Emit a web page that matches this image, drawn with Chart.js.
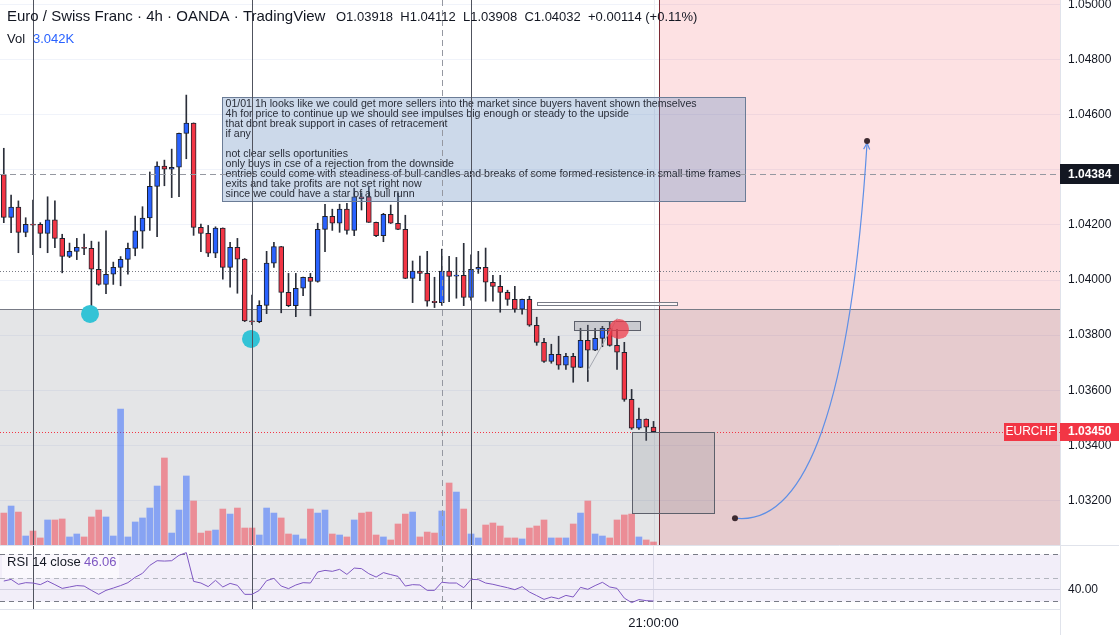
<!DOCTYPE html>
<html>
<head>
<meta charset="utf-8">
<title>EURCHF 4h</title>
<script src="https://cdn.jsdelivr.net/npm/chart.js@4.4.1/dist/chart.umd.min.js"></script>
<style>
  html, body { margin: 0; padding: 0; background: #fff; }
  #wrap { position: relative; width: 1119px; height: 635px; overflow: hidden; }
  #mainChart { position: absolute; left: 0; top: 0; }
  #rsiChart { position: absolute; left: 0; top: 546px; }
</style>
</head>
<body>
<div id="wrap">
  <canvas id="mainChart" width="1119" height="546"></canvas>
  <canvas id="rsiChart" width="1119" height="89"></canvas>
</div>
<script>
// 4h candles
const opens = [
  1.04383, 1.04227, 1.04265, 1.04173, 1.04203, 1.04202, 1.04169, 1.04218, 1.04151, 1.04086,
  1.04104, 1.04119, 1.04115, 1.04039, 1.03984, 1.04021, 1.04046, 1.04075, 1.04115, 1.04177,
  1.04225, 1.04340, 1.04413, 1.04402, 1.04409, 1.04532, 1.04569, 1.04191, 1.04169, 1.04097,
  1.04188, 1.04046, 1.04119, 1.04076, 1.03852, 1.03849, 1.03908, 1.04061, 1.04121, 1.03955,
  1.03907, 1.03970, 1.04010, 1.03995, 1.04184, 1.04231, 1.04206, 1.04257, 1.04180, 1.04302,
  1.04302, 1.04209, 1.04161, 1.04238, 1.04206, 1.04184, 1.04006, 1.04032, 1.04024, 1.03923,
  1.03918, 1.04032, 1.04014, 1.04017, 1.03937, 1.04039, 1.04046, 1.03992, 1.03977, 1.03955,
  1.03930, 1.03894, 1.03930, 1.03836, 1.03774, 1.03705, 1.03730, 1.03691, 1.03723, 1.03683,
  1.03781, 1.03745, 1.03788, 1.03825, 1.03763, 1.03738, 1.03567, 1.03462, 1.03495, 1.03466
];
const highs = [
  1.04478, 1.04308, 1.04287, 1.04226, 1.04290, 1.04208, 1.04302, 1.04287, 1.04166, 1.04134,
  1.04151, 1.04167, 1.04141, 1.04138, 1.04178, 1.04065, 1.04085, 1.04134, 1.04232, 1.04266,
  1.04392, 1.04429, 1.04435, 1.04475, 1.04533, 1.04671, 1.04570, 1.04203, 1.04198, 1.04193,
  1.04189, 1.04137, 1.04151, 1.04078, 1.03945, 1.03925, 1.04104, 1.04137, 1.04122, 1.04024,
  1.04024, 1.04011, 1.04024, 1.04206, 1.04275, 1.04257, 1.04275, 1.04278, 1.04333, 1.04316,
  1.04338, 1.04210, 1.04242, 1.04272, 1.04315, 1.04235, 1.04069, 1.04087, 1.04104, 1.04010,
  1.04112, 1.04086, 1.04082, 1.04133, 1.04091, 1.04104, 1.04116, 1.04017, 1.04017, 1.03963,
  1.03977, 1.03931, 1.03941, 1.03865, 1.03788, 1.03767, 1.03796, 1.03734, 1.03734, 1.03825,
  1.03836, 1.03825, 1.03832, 1.03847, 1.03821, 1.03774, 1.03603, 1.03535, 1.03496, 1.03487
];
const lows = [
  1.04208, 1.04172, 1.04099, 1.04157, 1.04092, 1.04117, 1.04099, 1.04117, 1.04026, 1.04081,
  1.04074, 1.04092, 1.03900, 1.03981, 1.03950, 1.03984, 1.03979, 1.04021, 1.04088, 1.04115,
  1.04180, 1.04157, 1.04342, 1.04299, 1.04302, 1.04440, 1.04162, 1.04103, 1.04085, 1.04081,
  1.04003, 1.03974, 1.03952, 1.03849, 1.03838, 1.03845, 1.03878, 1.04046, 1.03881, 1.03903,
  1.03867, 1.03943, 1.03870, 1.03992, 1.04103, 1.04180, 1.04173, 1.04166, 1.04161, 1.04254,
  1.04209, 1.04157, 1.04139, 1.04205, 1.04183, 1.04005, 1.03918, 1.03998, 1.03905, 1.03900,
  1.03908, 1.03921, 1.03934, 1.03907, 1.03927, 1.04024, 1.03923, 1.03923, 1.03883, 1.03908,
  1.03883, 1.03876, 1.03832, 1.03763, 1.03701, 1.03698, 1.03676, 1.03676, 1.03629, 1.03682,
  1.03632, 1.03744, 1.03758, 1.03760, 1.03676, 1.03560, 1.03458, 1.03458, 1.03418, 1.03447
];
const closes = [
  1.04227, 1.04265, 1.04173, 1.04202, 1.04199, 1.04169, 1.04218, 1.04151, 1.04086, 1.04104,
  1.04119, 1.04115, 1.04039, 1.03984, 1.04021, 1.04046, 1.04075, 1.04115, 1.04178, 1.04225,
  1.04340, 1.04413, 1.04402, 1.04409, 1.04532, 1.04569, 1.04191, 1.04169, 1.04097, 1.04188,
  1.04046, 1.04119, 1.04076, 1.03852, 1.03848, 1.03908, 1.04061, 1.04121, 1.03955, 1.03907,
  1.03970, 1.04010, 1.03995, 1.04184, 1.04231, 1.04206, 1.04257, 1.04180, 1.04302, 1.04295,
  1.04209, 1.04161, 1.04238, 1.04206, 1.04184, 1.04006, 1.04032, 1.04024, 1.03923, 1.03918,
  1.04032, 1.04013, 1.04018, 1.03937, 1.04039, 1.04046, 1.03992, 1.03977, 1.03955, 1.03930,
  1.03894, 1.03930, 1.03836, 1.03774, 1.03705, 1.03730, 1.03691, 1.03723, 1.03683, 1.03781,
  1.03745, 1.03788, 1.03825, 1.03763, 1.03738, 1.03567, 1.03462, 1.03495, 1.03466, 1.03450
];
const volumes = [
  2860, 3490, 2950, 805, 1250, 630, 2240, 2240, 2330, 720,
  985, 720, 2510, 3130, 2510, 805, 12170, 720, 2060, 2420,
  3310, 5280, 7790, 1070, 3130, 6180, 3940, 1070, 1250, 1340,
  3220, 2770, 3310, 1520, 1520, 895, 3310, 2860, 2420, 985,
  895, 540, 3220, 2860, 3130, 985, 895, 720, 2240, 2860,
  2950, 895, 720, 450, 1880, 2770, 2950, 720, 1160, 1070,
  3042, 5550, 4740, 3220, 985, 630, 1790, 1970, 1700, 630,
  630, 540, 1520, 1700, 2240, 630, 630, 630, 1880, 2860,
  3940, 985, 805, 630, 2240, 2690, 2770, 720, 450, 270
];
const rsiValues = [
  47.1, 48.5, 44.3, 45.7, 45.4, 44.0, 47.1, 44.0, 40.8, 42.0,
  43.2, 42.8, 39.1, 35.7, 39.1, 41.1, 43.2, 45.7, 50.3, 53.7,
  60.5, 64.5, 64.2, 64.5, 69.1, 71.4, 46.8, 45.4, 42.3, 47.7,
  42.0, 45.1, 43.4, 35.7, 35.7, 39.1, 47.4, 49.4, 42.8, 40.6,
  43.7, 45.7, 45.4, 54.8, 56.2, 55.4, 57.1, 52.8, 58.2, 57.7,
  53.4, 50.5, 54.3, 52.6, 51.1, 42.8, 44.0, 43.7, 39.1, 39.1,
  46.06, 45.4, 45.4, 41.4, 48.5, 48.3, 45.4, 44.3, 42.8, 41.4,
  39.7, 42.3, 37.7, 34.6, 31.4, 33.4, 32.0, 34.8, 33.4, 41.7,
  40.0, 43.2, 46.0, 42.0, 40.8, 32.5, 28.6, 31.2, 30.3, 30.0
];
const priceTicks = [1.032, 1.034, 1.036, 1.038, 1.040, 1.042, 1.044, 1.046, 1.048, 1.050];
const rsiTicks = [40];
const rsiBands = [70, 50, 30];
const timeTicks = [89];
const timeLabels = ['21:00:00'];

const hoverIdx = 60;          // candle under the crosshair
const crossPrice = 1.04384;
const lastPrice = 1.0345;

// visible ranges
const X_MIN = -0.52, X_MAX = 144.68;
const P_MIN = 1.030385, P_MAX = 1.05016;
const VOL_MAX = 48800;
const RSI_MIN = 23.15, RSI_MAX = 77.1;

// drawings on the chart (bar index / price)
const grayBandTop = 1.03893;
const futureStart = 89.75;
const markerLines = [4, 34, 64];
const refLine = 1.04032;
const supportDots = [[11.81, 1.03877], [33.86, 1.03786]];
const rejectDot = [84.27, 1.03822];
const zoneThin = [73.04, 92.22, 1.03920, 1.03911];
const zoneTop = [78.11, 87.15, 1.03851, 1.03820];
const zoneBox = [86.05, 97.29, 1.03450, 1.03153];
const trendSeg = [80.03, 1.03673, 84.04, 1.03861];
const pathCurve = [[100.16, 1.03136], [114.96, 1.03090], [118.25, 1.04497]];
const noteBox = [29.89, 101.53, 1.04664, 1.04287];
const noteLines = [
  '01/01 1h looks like we could get more sellers into the market since buyers havent shown themselves',
  '4h for price to continue up we should see impulses big enough or steady to the upside',
  'that dont break support in cases of retracement',
  'if any',
  '',
  'not clear sells oportunities',
  'only buys in cse of a rejection from the downside',
  'entries could come with steadiness of bull candles and breaks of some formed resistence in small time frames',
  'exits and take profits are not set right now',
  'since we could have a star of a bull runn'
];

const FONT = '"Liberation Sans", Arial, sans-serif';
const UP = '#2962ff';
const DOWN = '#f23645';
Chart.defaults.font.family = FONT;

function crisp(v) { return Math.round(v) + 0.5; }

function hline(ctx, a, yy) {
  ctx.beginPath(); ctx.moveTo(a.left, yy); ctx.lineTo(a.right, yy); ctx.stroke();
}
function vline(ctx, xx, y0, y1) {
  ctx.beginPath(); ctx.moveTo(xx, y0); ctx.lineTo(xx, y1); ctx.stroke();
}
function rectZone(ctx, x, y, z, fill, stroke) {
  const x0 = crisp(x.getPixelForValue(z[0])), x1 = crisp(x.getPixelForValue(z[1]));
  const y0 = crisp(y.getPixelForValue(z[2])), y1 = crisp(y.getPixelForValue(z[3]));
  ctx.fillStyle = fill;
  ctx.fillRect(x0, y0, x1 - x0, y1 - y0);
  ctx.strokeStyle = stroke;
  ctx.strokeRect(x0, y0, x1 - x0, y1 - y0);
}

const isUp = i => closes[i] >= opens[i];

const mainDrawings = {
  id: 'mainDrawings',
  beforeDatasetsDraw(chart) {
    const { ctx, chartArea: a } = chart;
    const x = chart.scales.x, y = chart.scales.y;
    ctx.save();
    ctx.lineWidth = 1;
    // faint time grid
    ctx.strokeStyle = '#eceef3';
    timeTicks.forEach(t => vline(ctx, crisp(x.getPixelForValue(t)), a.top, a.bottom));

    const gy = crisp(y.getPixelForValue(grayBandTop));
    ctx.fillStyle = 'rgba(120,123,134,0.2)';
    ctx.fillRect(a.left, gy, a.right - a.left, a.bottom - gy);
    const fx = crisp(x.getPixelForValue(futureStart));
    ctx.fillStyle = 'rgba(242,54,69,0.15)';
    ctx.fillRect(fx, a.top, a.right - fx, a.bottom - a.top);
    ctx.strokeStyle = '#787b86';
    hline(ctx, a, gy);
    ctx.strokeStyle = '#7b2934';
    vline(ctx, fx, a.top, a.bottom);

    ctx.setLineDash([1, 2]);
    ctx.strokeStyle = '#787b86';
    hline(ctx, a, crisp(y.getPixelForValue(refLine)));
    ctx.strokeStyle = '#f23645';
    hline(ctx, a, crisp(y.getPixelForValue(lastPrice)));
    ctx.restore();
  },
  afterDatasetsDraw(chart) {
    const { ctx, chartArea: a } = chart;
    const x = chart.scales.x, y = chart.scales.y;
    ctx.save();
    ctx.lineWidth = 1;

    rectZone(ctx, x, y, zoneThin, 'rgba(255,255,255,0.6)', '#787b86');
    rectZone(ctx, x, y, zoneTop, 'rgba(120,123,134,0.25)', '#5d606b');
    rectZone(ctx, x, y, zoneBox, 'rgba(120,123,134,0.2)', '#5d606b');

    ctx.strokeStyle = '#a3a6af';
    ctx.beginPath();
    ctx.moveTo(x.getPixelForValue(trendSeg[0]), y.getPixelForValue(trendSeg[1]));
    ctx.lineTo(x.getPixelForValue(trendSeg[2]), y.getPixelForValue(trendSeg[3]));
    ctx.stroke();

    ctx.fillStyle = '#33c3d6';
    supportDots.forEach(d => {
      ctx.beginPath();
      ctx.arc(x.getPixelForValue(d[0]), y.getPixelForValue(d[1]), 9, 0, Math.PI * 2);
      ctx.fill();
    });
    ctx.fillStyle = 'rgba(242,54,69,0.72)';
    ctx.beginPath();
    ctx.arc(x.getPixelForValue(rejectDot[0]), y.getPixelForValue(rejectDot[1]), 10, 0, Math.PI * 2);
    ctx.fill();

    // note box
    const bx0 = crisp(x.getPixelForValue(noteBox[0])), bx1 = crisp(x.getPixelForValue(noteBox[1]));
    const by0 = crisp(y.getPixelForValue(noteBox[2])), by1 = crisp(y.getPixelForValue(noteBox[3]));
    ctx.fillStyle = 'rgba(100,140,190,0.33)';
    ctx.fillRect(bx0, by0, bx1 - bx0, by1 - by0);
    ctx.strokeStyle = '#6b7c96';
    ctx.strokeRect(bx0, by0, bx1 - bx0, by1 - by0);
    ctx.fillStyle = '#2a2e39';
    ctx.font = '10.6px ' + FONT;
    ctx.textBaseline = 'middle';
    ctx.textAlign = 'left';
    noteLines.forEach((t, k) => ctx.fillText(t, bx0 + 3, by0 + 7 + k * 10));

    // vertical marker lines
    ctx.strokeStyle = '#50535e';
    markerLines.forEach(m => vline(ctx, crisp(x.getPixelForValue(m)), a.top, a.bottom));

    // crosshair
    ctx.setLineDash([6, 4]);
    ctx.strokeStyle = '#9598a1';
    vline(ctx, crisp(x.getPixelForValue(hoverIdx)), a.top, a.bottom);
    hline(ctx, a, crisp(y.getPixelForValue(crossPrice)));
    ctx.setLineDash([]);

    // projected path
    const p = pathCurve.map(q => [x.getPixelForValue(q[0]), y.getPixelForValue(q[1])]);
    ctx.strokeStyle = '#5e8fe6';
    ctx.lineWidth = 1.2;
    ctx.beginPath();
    ctx.moveTo(p[0][0], p[0][1]);
    ctx.quadraticCurveTo(p[1][0], p[1][1], p[2][0], p[2][1]);
    ctx.stroke();
    const ang = Math.atan2(p[2][1] - p[1][1], p[2][0] - p[1][0]);
    ctx.beginPath();
    ctx.moveTo(p[2][0] - 7 * Math.cos(ang - 0.45), p[2][1] - 7 * Math.sin(ang - 0.45));
    ctx.lineTo(p[2][0], p[2][1]);
    ctx.lineTo(p[2][0] - 7 * Math.cos(ang + 0.45), p[2][1] - 7 * Math.sin(ang + 0.45));
    ctx.stroke();
    ctx.fillStyle = '#3d2a30';
    [p[0], [p[2][0], p[2][1] - 2]].forEach(q => {
      ctx.beginPath(); ctx.arc(q[0], q[1], 3, 0, Math.PI * 2); ctx.fill();
    });
    ctx.restore();
  },
  afterDraw(chart) {
    const { ctx, chartArea: a } = chart;
    const y = chart.scales.y;
    ctx.save();
    ctx.textBaseline = 'middle';
    ctx.textAlign = 'left';

    // header
    ctx.fillStyle = '#131722';
    ctx.font = '15px ' + FONT;
    ctx.fillText('Euro / Swiss Franc \u00b7 4h \u00b7 OANDA \u00b7 TradingView', 7, 17);
    const i = hoverIdx;
    const chg = closes[i] - closes[i - 1];
    const pct = chg / closes[i - 1] * 100;
    const sgn = chg >= 0 ? '+' : '-';
    ctx.font = '13px ' + FONT;
    ctx.fillText('O' + opens[i].toFixed(5) + '  H' + highs[i].toFixed(5) + '  L' + lows[i].toFixed(5) +
      '  C' + closes[i].toFixed(5) + '  ' + sgn + Math.abs(chg).toFixed(5) + ' (' + sgn + Math.abs(pct).toFixed(2) + '%)', 336, 17);
    ctx.fillText('Vol', 7, 39);
    ctx.fillStyle = UP;
    ctx.fillText((volumes[i] / 1000).toFixed(3) + 'K', 33, 39);

    // axis labels
    const cy = Math.round(y.getPixelForValue(crossPrice));
    ctx.fillStyle = '#131722';
    ctx.fillRect(a.right, cy - 10, 59, 20);
    ctx.fillStyle = '#fff';
    ctx.font = 'bold 12px ' + FONT;
    ctx.fillText(crossPrice.toFixed(5), a.right + 8, cy + 1);

    const ly = Math.round(y.getPixelForValue(lastPrice));
    ctx.fillStyle = DOWN;
    ctx.fillRect(a.right - 56, ly - 9, 53, 18);
    ctx.fillRect(a.right, ly - 9, 59, 18);
    ctx.fillStyle = '#fff';
    ctx.fillText(lastPrice.toFixed(5), a.right + 8, ly);
    ctx.textAlign = 'center';
    ctx.font = '12px ' + FONT;
    ctx.fillText('EURCHF', a.right - 29.5, ly);

    ctx.strokeStyle = '#e0e3eb';
    ctx.lineWidth = 1;
    ctx.beginPath(); ctx.moveTo(0, 545.5); ctx.lineTo(1119, 545.5); ctx.stroke();
    ctx.restore();
  }
};

const mainChart = new Chart(document.getElementById('mainChart'), {
  type: 'bar',
  data: {
    datasets: [
      {
        label: 'body',
        data: opens.map((o, i) => ({ x: i, y: [o, closes[i]] })),
        backgroundColor: opens.map((o, i) => isUp(i) ? UP : DOWN),
        borderColor: '#1e222d',
        borderWidth: 1,
        borderSkipped: false,
        barThickness: 5,
        grouped: false,
        order: 0
      },
      {
        label: 'wick',
        data: lows.map((l, i) => ({ x: i, y: [l, highs[i]] })),
        backgroundColor: '#2a2e39',
        barThickness: 1,
        grouped: false,
        order: 1
      },
      {
        label: 'volume',
        data: volumes.map((v, i) => ({ x: i, y: v })),
        backgroundColor: volumes.map((v, i) => isUp(i) ? 'rgba(41,98,255,0.5)' : 'rgba(242,54,69,0.5)'),
        barThickness: 6,
        grouped: false,
        yAxisID: 'yv',
        order: 2
      }
    ]
  },
  options: {
    responsive: false,
    animation: false,
    layout: { padding: { left: 0, right: 0, top: 0, bottom: 1 } },
    plugins: { legend: { display: false }, tooltip: { enabled: false } },
    scales: {
      x: { type: 'linear', min: X_MIN, max: X_MAX, offset: false, display: false },
      y: {
        position: 'right',
        min: P_MIN,
        max: P_MAX,
        afterBuildTicks: s => { s.ticks = priceTicks.map(v => ({ value: v })); },
        afterFit: s => { s.width = 59; s.paddingTop = 0; s.paddingBottom = 0; },
        grid: { color: '#f0f3fa', drawTicks: false },
        border: { color: '#e0e3eb' },
        ticks: {
          padding: 8, color: '#131722', font: { size: 12 },
          // the crosshair label hides the tick right under it
          callback: v => Math.abs(v - crossPrice) < 0.0004 ? '' : v.toFixed(5)
        }
      },
      yv: { display: false, min: 0, max: VOL_MAX }
    }
  },
  plugins: [mainDrawings]
});

const rsiDrawings = {
  id: 'rsiDrawings',
  beforeDatasetsDraw(chart) {
    const { ctx, chartArea: a } = chart;
    const x = chart.scales.x, y = chart.scales.y;
    ctx.save();
    ctx.lineWidth = 1;
    const yHi = crisp(y.getPixelForValue(rsiBands[0]));
    const yMid = crisp(y.getPixelForValue(rsiBands[1]));
    const yLo = crisp(y.getPixelForValue(rsiBands[2]));
    ctx.fillStyle = 'rgba(126,87,194,0.1)';
    ctx.fillRect(a.left, yHi, a.right - a.left, yLo - yHi);
    ctx.setLineDash([5, 4]);
    ctx.strokeStyle = '#787b86';
    hline(ctx, a, yHi);
    hline(ctx, a, yLo);
    ctx.strokeStyle = '#b2b5be';
    hline(ctx, a, yMid);
    ctx.setLineDash([]);

    ctx.fillStyle = 'rgba(255,255,255,0.6)';
    ctx.fillRect(2, 9, 117, 23);

    ctx.strokeStyle = '#50535e';
    markerLines.forEach(m => vline(ctx, crisp(x.getPixelForValue(m)), a.top, a.bottom));
    ctx.setLineDash([6, 4]);
    ctx.strokeStyle = '#9598a1';
    vline(ctx, crisp(x.getPixelForValue(hoverIdx)), a.top, a.bottom);
    ctx.restore();
  },
  afterDraw(chart) {
    const { ctx, chartArea: a } = chart;
    ctx.save();
    ctx.textBaseline = 'middle';
    ctx.textAlign = 'left';
    ctx.font = '13px ' + FONT;
    ctx.fillStyle = '#131722';
    ctx.fillText('RSI 14 close', 7, 16);
    ctx.fillStyle = '#7e57c2';
    ctx.fillText(rsiValues[hoverIdx].toFixed(2), 84, 16);
    ctx.strokeStyle = '#e0e3eb';
    ctx.lineWidth = 1;
    ctx.beginPath(); ctx.moveTo(a.right + 0.5, a.bottom); ctx.lineTo(a.right + 0.5, chart.height); ctx.stroke();
    ctx.restore();
  }
};

const rsiChart = new Chart(document.getElementById('rsiChart'), {
  type: 'line',
  data: {
    datasets: [{
      label: 'RSI',
      data: rsiValues.map((v, i) => ({ x: i, y: v })),
      borderColor: '#7e57c2',
      borderWidth: 1,
      pointRadius: 0,
      tension: 0
    }]
  },
  options: {
    responsive: false,
    animation: false,
    layout: { padding: 0 },
    plugins: { legend: { display: false }, tooltip: { enabled: false } },
    scales: {
      x: {
        type: 'linear',
        min: X_MIN,
        max: X_MAX,
        offset: false,
        afterBuildTicks: s => { s.ticks = timeTicks.map(v => ({ value: v })); },
        afterFit: s => { s.height = 26; s.paddingLeft = 0; s.paddingRight = 0; },
        grid: { color: '#e6e8ee', drawTicks: false },
        border: { color: '#e0e3eb' },
        ticks: { padding: 7, color: '#131722', font: { size: 13 }, autoSkip: false, maxRotation: 0,
                 callback: (v, k) => timeLabels[k] }
      },
      y: {
        position: 'right',
        min: RSI_MIN,
        max: RSI_MAX,
        afterBuildTicks: s => { s.ticks = rsiTicks.map(v => ({ value: v })); },
        afterFit: s => { s.width = 59; s.paddingTop = 0; s.paddingBottom = 0; },
        grid: { color: '#dcdee5', drawTicks: false },
        border: { color: '#e0e3eb' },
        ticks: { padding: 8, color: '#131722', font: { size: 12 }, callback: v => v.toFixed(2) }
      }
    }
  },
  plugins: [rsiDrawings]
});
</script>
</body>
</html>
